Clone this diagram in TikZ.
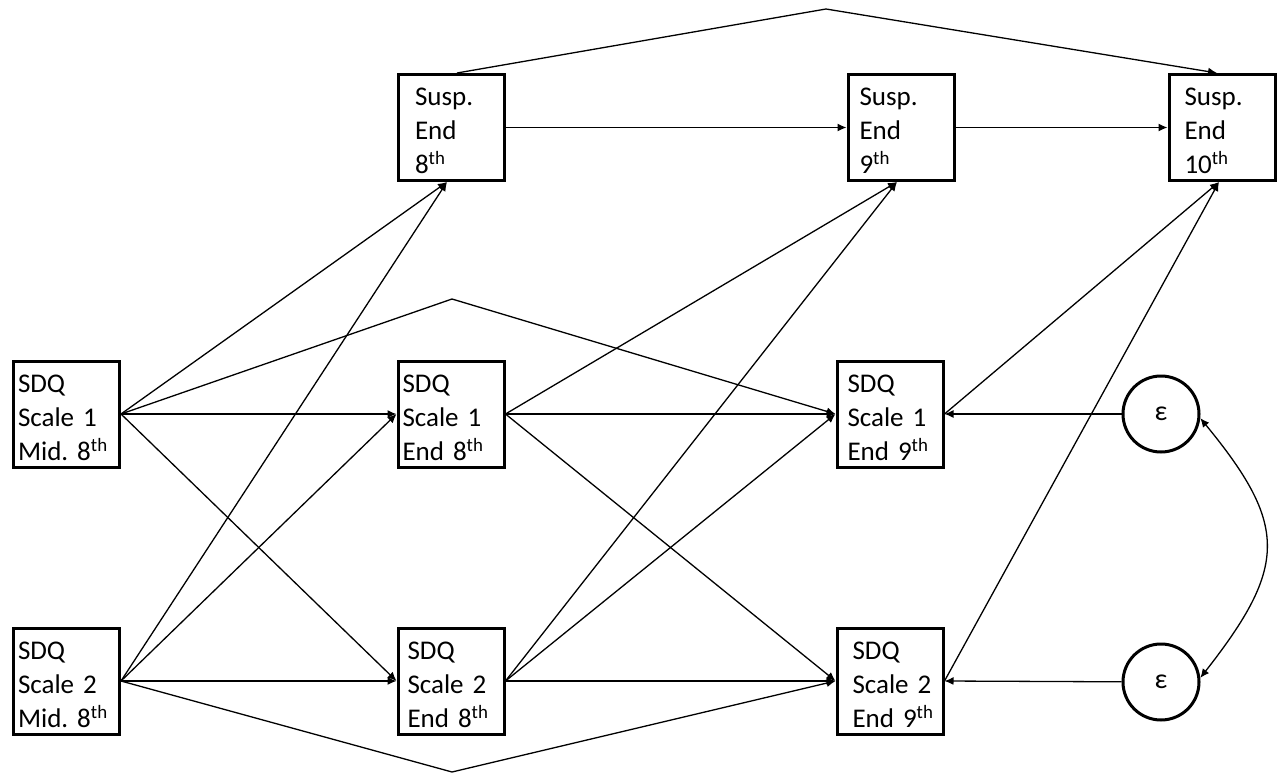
\documentclass[tikz,border=0pt]{standalone}
\usepackage{fontspec}
\setmainfont{Carlito}
\frenchspacing
\usetikzlibrary{arrows.meta}
\tikzset{
  box/.style={draw, line width=3pt, minimum width=106pt, minimum height=106pt,
    inner sep=0pt, align=left, text width=#1, text height=20pt, text depth=63pt,
    font=\fontsize{27}{34}\selectfont},
  eps/.style={draw, circle, line width=3pt, minimum size=76pt, inner sep=0pt,
    font=\fontsize{28}{34}\selectfont},
  conn/.style={line width=1.3pt, -{Latex[length=9pt,width=8pt]}},
  both/.style={line width=1.3pt, {Latex[length=9pt,width=8pt]}-{Latex[length=9pt,width=8pt]}},
}
\begin{document}
\begin{tikzpicture}[x=1pt,y=-1pt]
\useasboundingbox (0,0) rectangle (1280,773);
% boxes
\node[box=73pt] (s8) at (451.5,127.5) {Susp.\\End\\8\textsuperscript{th}};
\node[box=83pt] (s9) at (901,127.5) {Susp.\\End\\9\textsuperscript{th}};
\node[box=75pt] (s10) at (1222,127.5) {Susp.\\End\\10\textsuperscript{th}};
\node[box=97pt] (m1) at (66.5,414) {SDQ\\Scale~1\\Mid.~8\textsuperscript{th}};
\node[box=97pt] (a1) at (451,414) {SDQ\\Scale~1\\End~8\textsuperscript{th}};
\node[box=85pt] (b1) at (890,414) {SDQ\\Scale~1\\End~9\textsuperscript{th}};
\node[box=97pt] (m2) at (66.5,681) {SDQ\\Scale~2\\Mid.~8\textsuperscript{th}};
\node[box=87pt] (a2) at (451,681) {SDQ\\Scale~2\\End~8\textsuperscript{th}};
\node[box=75pt] (b2) at (890,681) {SDQ\\Scale~2\\End~9\textsuperscript{th}};
\node[eps] (e1) at (1161,414) {ε};
\node[eps] (e2) at (1161,682) {ε};
% helper coordinates
\coordinate (ptop) at (826,9);
\coordinate (pmid) at (452,299);
\coordinate (pbot) at (452,772);
\coordinate (s8in) at ([xshift=-4.5pt]s8.south);
\coordinate (s9in) at ([xshift=-4pt]s9.south);
\coordinate (s10in) at ([xshift=-3pt]s10.south);
% top row
\draw[conn] (s8) -- (s9);
\draw[conn] (s9) -- (s10);
\draw[conn] ([xshift=5.5pt]s8.north) -- (ptop) -- ([xshift=-5pt]s10.north);
% from m1
\draw[conn] (m1.east) -- (s8in);
\draw[conn] (m1.east) -- (a1.west);
\draw[conn] (m1.east) -- (pmid) -- (b1.west);
\draw[conn] (m1.east) -- (a2.west);
% from m2
\draw[conn] (m2.east) -- (s8in);
\draw[conn] (m2.east) -- (a1.west);
\draw[conn] (m2.east) -- (a2.west);
\draw[conn] (m2.east) -- (pbot) -- (b2.west);
% from a1
\draw[conn] (a1.east) -- (s9in);
\draw[conn] (a1.east) -- (b1.west);
\draw[conn] (a1.east) -- (b2.west);
% from a2
\draw[conn] (a2.east) -- (s9in);
\draw[conn] (a2.east) -- (b1.west);
\draw[conn] (a2.east) -- (b2.west);
% from b1, b2
\draw[conn] (b1.east) -- (s10in);
\draw[conn] (b2.east) -- (s10in);
% epsilons
\draw[conn] (e1) -- (b1.east);
\draw[conn] (e2) -- (b2.east);
\draw[both] (e1.-6) .. controls (1288,525) and (1288,566) .. (e2.6);
\end{tikzpicture}
\end{document}
